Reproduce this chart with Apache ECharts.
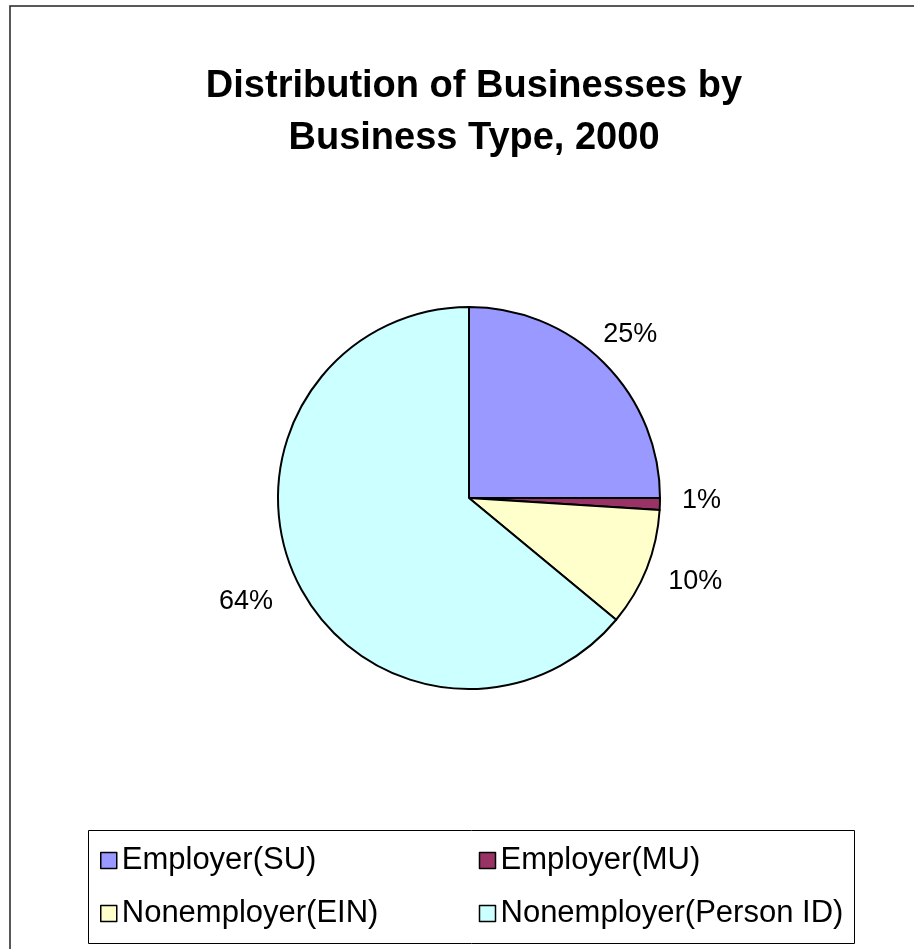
<!DOCTYPE html>
<html>
<head>
<meta charset="utf-8">
<script src="https://cdn.jsdelivr.net/npm/echarts@6/dist/echarts.min.js"></script>
<style>
  html, body { margin: 0; padding: 0; background: #ffffff; }
  #chart { width: 914px; height: 949px; }
</style>
</head>
<body>
<div id="chart"></div>
<script>
// Share of businesses by type, 2000 (percent)
const categories = ['Employer(SU)', 'Employer(MU)', 'Nonemployer(EIN)', 'Nonemployer(Person ID)'];
const shares = [25, 1, 10, 64];
const colors = ['#9999FF', '#993366', '#FFFFCC', '#CCFFFF'];
const titleText = 'Distribution of Businesses by\nBusiness Type, 2000';

// per-slice nudges for the outside percentage labels
const labelNudge = [[-20, -14], [-3, -4], [-2, 6], [0, 14]];

const FONT = '"Liberation Sans", Arial, sans-serif';

const chart = echarts.init(document.getElementById('chart'), null, { renderer: 'canvas' });

const pieData = categories.map((name, i) => ({
  name: name,
  value: shares[i],
  itemStyle: { color: colors[i] }
}));

chart.setOption({
  animation: false,
  backgroundColor: '#ffffff',
  title: {
    text: titleText,
    left: 469,
    top: 56,
    textAlign: 'center',
    textStyle: {
      fontFamily: FONT,
      fontWeight: 'bold',
      fontSize: 38,
      lineHeight: 52,
      align: 'center',
      color: '#000000'
    }
  },
  graphic: [
    {
      // chart-area frame
      type: 'rect',
      shape: { x: 10, y: 6, width: 1000, height: 1000 },
      style: { fill: 'none', stroke: '#222222', lineWidth: 1.5 },
      silent: true,
      z: -10
    },
    {
      // legend frame
      type: 'rect',
      shape: { x: 88.5, y: 830.5, width: 766, height: 113 },
      style: { fill: '#ffffff', stroke: '#000000', lineWidth: 1 },
      silent: true,
      z: -5
    }
  ],
  legend: {
    left: 100,
    top: 834,
    width: 760,
    orient: 'horizontal',
    icon: 'rect',
    itemWidth: 16,
    itemHeight: 16,
    itemGap: 0,
    padding: 0,
    itemStyle: { borderColor: '#000000', borderWidth: 1.5 },
    textStyle: {
      fontFamily: FONT,
      fontSize: 31,
      color: '#000000',
      width: 357,
      height: 53,
      lineHeight: 53
    },
    data: categories
  },
  series: [{
    type: 'pie',
    center: [469, 498],
    radius: [0, 191],
    startAngle: 90,
    clockwise: true,
    avoidLabelOverlap: false,
    itemStyle: { borderColor: '#000000', borderWidth: 2 },
    label: {
      show: true,
      position: 'outside',
      formatter: '{c}%',
      fontFamily: FONT,
      fontSize: 27,
      color: '#000000'
    },
    labelLine: { show: false, length: 20, length2: 0 },
    labelLayout: function (params) {
      const n = labelNudge[params.dataIndex] || [0, 0];
      return { dx: n[0], dy: n[1] };
    },
    emphasis: { disabled: true },
    data: pieData
  }]
});
</script>
</body>
</html>
